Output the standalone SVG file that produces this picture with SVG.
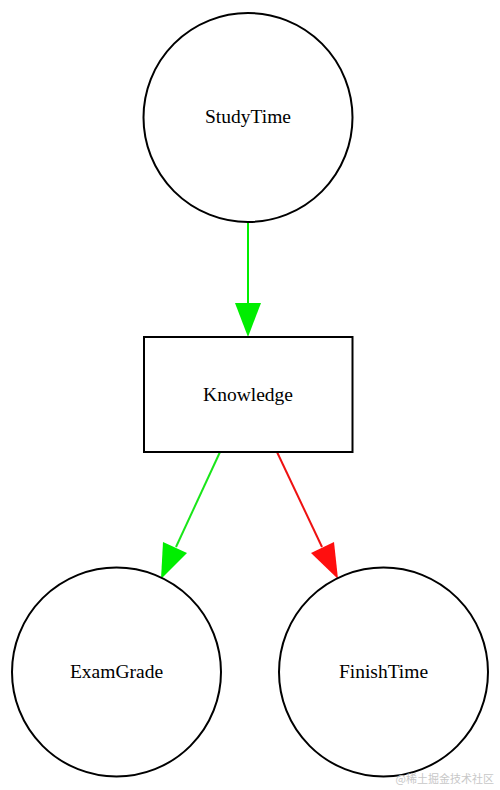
<svg xmlns="http://www.w3.org/2000/svg" width="500" height="790" viewBox="0 0 500 790">
<style>
.node{fill:#fff;stroke:#000;stroke-width:2}
.lbl{font-family:"Liberation Serif","Times New Roman",serif;font-size:19.5px;text-anchor:middle;fill:#000}
.edge{fill:none;stroke-width:2}
.wm{font-family:"Noto Sans CJK SC",sans-serif;font-size:11px;fill:#c8c8c8}
</style>
<rect width="500" height="790" fill="#fff"/>
<g id="connectors">
<g id="e1">
<line class="edge" stroke="#00ee00" x1="248" y1="222" x2="248" y2="305"/>
<polygon fill="#00ee00" points="235,303 261,303 248,337"/>
</g>
<g id="e2">
<line class="edge" stroke="#19e619" x1="220" y1="452" x2="176" y2="547"/>
<polygon fill="#00ee00" points="163,542 187,553 161,579"/>
</g>
<g id="e3">
<line class="edge" stroke="#ee1111" x1="277" y1="452" x2="322" y2="547"/>
<polygon fill="#ff0f0f" points="311,553 334,542 338,579"/>
</g>
</g>
<g id="StudyTime">
<circle class="node" cx="248" cy="117.5" r="104.5"/>
<text class="lbl" x="248" y="123">StudyTime</text>
</g>
<g id="Knowledge">
<rect class="node" x="144" y="337" width="208.5" height="115"/>
<text class="lbl" x="248" y="401">Knowledge</text>
</g>
<g id="ExamGrade">
<circle class="node" cx="116.5" cy="672" r="104.5"/>
<text class="lbl" x="116.5" y="678">ExamGrade</text>
</g>
<g id="FinishTime">
<circle class="node" cx="383.5" cy="672" r="104.5"/>
<text class="lbl" x="383.5" y="678">FinishTime</text>
</g>
<text class="wm" x="494" y="783" text-anchor="end">@稀土掘金技术社区</text>
</svg>
